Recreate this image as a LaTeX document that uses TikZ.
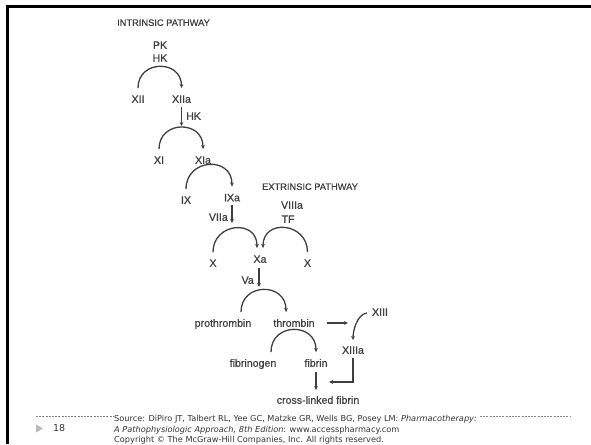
\documentclass[tikz,border=0pt]{standalone}
\usepackage{fontspec}
\setmainfont{Liberation Sans}
\newfontfamily\diafont[FakeBold=0.6]{Liberation Sans}
\newfontfamily\srcfont{DejaVu Sans}
\usetikzlibrary{arrows.meta}
\definecolor{ink}{HTML}{3F3F3F}
\definecolor{srcink}{HTML}{333333}
\tikzset{
  lbl/.style={inner sep=0pt, text height=7.5pt, text depth=0pt, text=ink, font=\diafont\fontsize{10.6}{12}\selectfont},
  ttl/.style={inner sep=0pt, text=ink, font=\diafont\fontsize{9.3}{11}\selectfont},
  conv/.style={draw=ink, line width=1.3pt, -{Stealth[length=4pt,width=3.8pt]}, out=90, in=90, looseness=2.1, shorten <=7pt, shorten >=7pt},
  act/.style={draw=ink, line width=1.3pt, -{Stealth[length=4pt,width=3.8pt]}, shorten <=4pt},
  src/.style={inner sep=0pt, anchor=west, text=srcink, font=\srcfont\fontsize{8.2}{9}\selectfont},
}

\begin{document}
\begin{tikzpicture}[x=1pt, y=-1pt]
	\useasboundingbox (0, 0) rectangle (591, 444);
	\draw[line width=3pt] (7.5, 444) -- (7.5, 6.5) -- (591, 6.5);
	%
	\node[ttl] (intr) at (163.5, 22.7) {INTRINSIC PATHWAY};
	\node[lbl] (pk) at (160, 45) {PK};
	\node[lbl] (hk) at (160, 58) {HK};
	\node[lbl] (XII) at (138, 99) {XII};
	\node[lbl] (XIIa) at (181.5, 99) {XIIa};
	\node[lbl, anchor=west] (hkb) at (186, 116) {HK};
	\node[lbl] (XI) at (159, 160) {XI};
	\node[lbl] (XIa) at (203, 160) {XIa};
	\node[lbl] (IX) at (186, 200) {IX};
	\node[lbl] (IXa) at (232, 197.5) {IXa};
	\node[lbl, anchor=east] (VIIa) at (228, 217) {VIIa};
	\coordinate (tipXI) at (181.5, 126);
	\coordinate (tipX) at (232, 223);
	\draw[conv] (XII.north) to (XIIa.north);
	\draw[act] (XIIa.south) -- (tipXI);
	\draw[conv] (XI.north) to (XIa.north);
	\draw[conv] (IX.north) to (IXa.north);
	\draw[act] (IXa.south) -- (tipX);
	%
	\node[ttl] (extr) at (310, 186.7) {EXTRINSIC PATHWAY};
	\node[lbl] (VIIIa) at (292, 205) {VIIIa};
	\node[lbl] (TF) at (288, 219) {TF};
	\node[lbl] (Xl) at (213, 263) {X};
	\node[lbl] (Xa) at (260, 259) {Xa};
	\node[lbl] (Xr) at (307.5, 263) {X};
	\node[lbl, anchor=east] (Va) at (254, 280) {Va};
	\coordinate (tipPro) at (259, 287);
	\draw[conv] (Xl.north) to ([xshift=-3pt]Xa.north);
	\draw[conv] (Xr.north) to ([xshift=3pt]Xa.north);
	\draw[act, shorten <=5pt] (Xa.south -| tipPro) -- (tipPro);
	%
	\node[lbl] (pro) at (223, 323) {prothrombin};
	\node[lbl] (thr) at (294, 323) {thrombin};
	\node[lbl] (XIII) at (380, 312) {XIII};
	\node[lbl] (XIIIa) at (353, 350) {XIIIa};
	\node[lbl] (fbg) at (253, 363) {fibrinogen};
	\node[lbl] (fib) at (316, 363) {fibrin};
	\node[lbl] (xlink) at (318, 400) {cross-linked fibrin};
	\coordinate (tipThr) at (348, 323);
	\coordinate (tipJoin) at (329, 382);
	\draw[conv] ([xshift=18pt]pro.north) to ([xshift=-8pt]thr.north);
	\draw[act, shorten <=12pt] (thr.east) -- (tipThr);
	\draw[act, shorten <=5pt, shorten >=6pt] (XIII.west) to[out=190, in=90] (XIIIa.north);
	\draw[conv] ([xshift=18pt]fbg.north) to (fib.north);
	\draw[act, shorten <=5pt, shorten >=6pt] (fib.south) -- (fib.south |- xlink.north);
	\draw[act] (XIIIa.south) |- (tipJoin);
	%
	\draw[gray, line width=0.6pt, dash pattern=on 2pt off 1.2pt] (36, 416.7) -- (113, 416.7);
	\draw[gray, line width=0.6pt, dash pattern=on 2pt off 1.2pt] (480, 416.7) -- (570, 416.7);
	\fill[gray!55] (36, 424.5) -- (43, 428.5) -- (36, 432.5) -- cycle;
	\node[src, font=\srcfont\fontsize{9.5}{10}\selectfont] (page) at (53, 428.5) {18};
	\node[src] (src1) at (114, 419.5) {Source: DiPiro JT, Talbert RL, Yee GC, Matzke GR, Wells BG, Posey LM: \textit{Pharmacotherapy:}};
	\node[src] (src2) at (114, 430) {\textit{A Pathophysiologic Approach, 8th Edition}: www.accesspharmacy.com};
	\node[src] (src3) at (114, 440) {Copyright © The McGraw-Hill Companies, Inc. All rights reserved.};
\end{tikzpicture}
\end{document}
